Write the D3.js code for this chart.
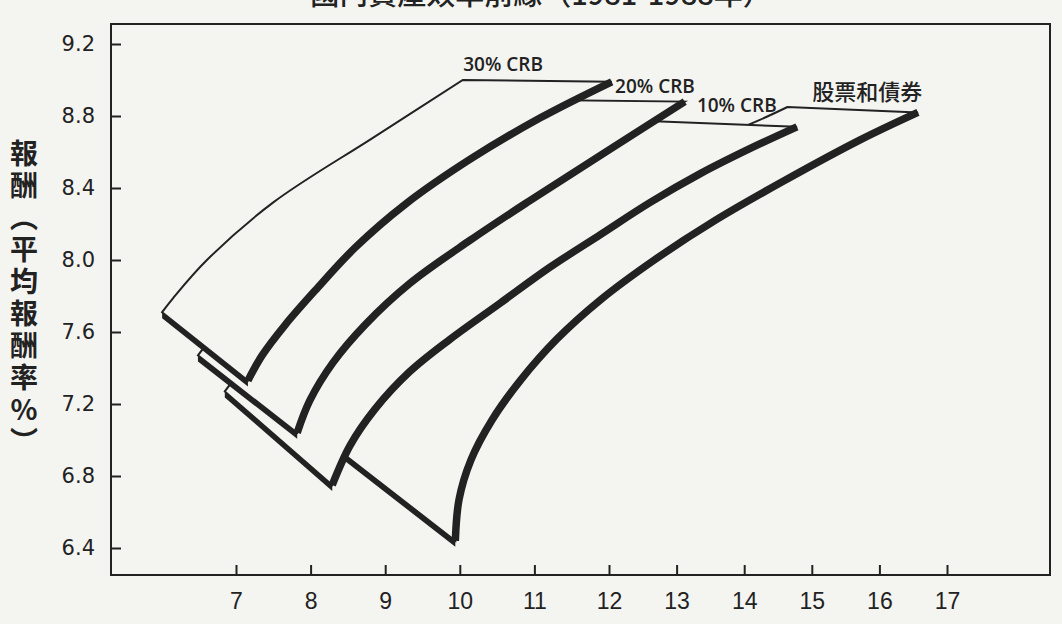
<!DOCTYPE html>
<html>
<head>
<meta charset="utf-8">
<script src="https://cdn.jsdelivr.net/npm/d3@7"></script>
<style>
  html, body { margin: 0; padding: 0; background: #f4f4f1; }
  svg { display: block; }
</style>
</head>
<body>
<svg id="chart" width="1062" height="624"></svg>
<script>
// ---------------- data (risk %, return %) ----------------
const titleText = "國內資產效率前緣（1981-1988年）";
const yTitle = "報酬（平均報酬率%）";
const xTicks = [7, 8, 9, 10, 11, 12, 13, 14, 15, 16, 17];
const yTicks = [6.4, 6.8, 7.2, 7.6, 8.0, 8.4, 8.8, 9.2];
const series = ["股票和債券", "10% CRB", "20% CRB", "30% CRB"];

// frontier curves (front, thick edge), from low-risk end to high-risk end
const frontStocks = [[9.94,6.44],[9.99,6.67],[10.15,6.89],[10.43,7.11],[10.81,7.33],[11.30,7.56],[11.89,7.78],[12.67,8.00],[13.57,8.22],[14.59,8.44],[15.73,8.67],[16.57,8.82]];
const front10 = [[8.29,6.75],[8.53,6.97],[8.86,7.17],[9.33,7.38],[9.87,7.56],[10.54,7.76],[11.21,7.96],[11.88,8.14],[12.61,8.32],[13.35,8.48],[14.09,8.62],[14.78,8.74]];
const front20 = [[7.82,7.04],[7.99,7.22],[8.30,7.43],[8.73,7.64],[9.33,7.87],[10.14,8.11],[10.94,8.33],[11.88,8.58],[13.12,8.88]];
const front30 = [[7.16,7.33],[7.35,7.47],[7.66,7.64],[8.06,7.83],[8.60,8.07],[9.27,8.31],[10.14,8.56],[11.08,8.79],[12.04,8.99]];

// back edges of each ribbon (depth side), from bottom corner to top corner
const backStocks = [[7.86,7.11],[8.06,7.22],[8.53,7.44],[9.47,7.78],[10.67,8.11],[12.01,8.42],[13.35,8.64],[14.24,8.78],[14.64,8.85]];
const back10 = [[6.85,7.27],[7.00,7.35],[7.46,7.56],[8.34,7.87],[9.68,8.24],[11.08,8.56],[12.01,8.78]];
const back20 = [[6.49,7.47],[6.64,7.55],[7.09,7.76],[7.98,8.07],[9.32,8.44],[10.40,8.72],[10.81,8.89]];
const back30 = [[6.01,7.71],[6.16,7.79],[6.61,8.00],[7.50,8.32],[8.84,8.68],[10.04,9.00]];

// label anchor values (risk, return) for each ribbon label
const labelPos = [[15.82,8.89],[13.30,8.82],[12.09,8.93],[10.58,9.05]];

// ---------------- layout ----------------
const svg = d3.select("#chart");
const frame = {left: 111, top: 24, right: 1050, bottom: 575};
const ink = "#222";
const paper = "#f4f4f1";

const x = d3.scaleLinear().domain([7, 12, 17]).range([236, 609, 947]);
const y = d3.scaleLinear().domain([6.4, 9.2]).range([548, 44]);

// title (mostly cut off by the page top, as in the scan)
svg.append("text")
  .attr("x", 541).attr("y", 5)
  .attr("text-anchor", "middle")
  .attr("font-family", "'Noto Sans CJK TC', 'Noto Sans CJK SC', sans-serif")
  .attr("font-size", 29).attr("font-weight", 500)
  .attr("fill", ink)
  .text(titleText);

// frame
svg.append("rect")
  .attr("x", frame.left).attr("y", frame.top)
  .attr("width", frame.right - frame.left).attr("height", frame.bottom - frame.top)
  .attr("fill", "none").attr("stroke", ink).attr("stroke-width", 2);

// y axis
const yAxis = d3.axisLeft(y).tickValues(yTicks).tickFormat(d3.format(".1f")).tickSizeInner(-10).tickSizeOuter(0).tickPadding(16);
const gy = svg.append("g").attr("transform", `translate(${frame.left},0)`).call(yAxis);
gy.select(".domain").remove();
gy.selectAll(".tick line").attr("stroke", ink).attr("stroke-width", 2);
gy.selectAll(".tick text")
  .attr("fill", ink)
  .attr("font-family", "'DejaVu Sans', sans-serif")
  .attr("font-size", 21);

// x axis
const xAxis = d3.axisBottom(x).tickValues(xTicks).tickFormat(d3.format("d")).tickSizeInner(-10).tickSizeOuter(0).tickPadding(18);
const gx = svg.append("g").attr("transform", `translate(0,${frame.bottom})`).call(xAxis);
gx.select(".domain").remove();
gx.selectAll(".tick line").attr("stroke", ink).attr("stroke-width", 2);
gx.selectAll(".tick text")
  .attr("fill", ink)
  .attr("font-family", "'Liberation Sans Narrow', 'Liberation Sans', sans-serif")
  .attr("font-size", 23);

// y-axis title, vertical writing
svg.append("text")
  .attr("x", 24).attr("y", 139)
  .style("writing-mode", "vertical-rl")
  .style("text-orientation", "upright")
  .attr("letter-spacing", 4)
  .attr("font-family", "'Noto Sans CJK TC', 'Noto Sans CJK SC', sans-serif")
  .attr("font-size", 28).attr("font-weight", 700)
  .attr("fill", ink)
  .text(yTitle);

// ribbons
const curve = d3.line().x(d => x(d[0])).y(d => y(d[1])).curve(d3.curveCatmullRom.alpha(0.5));
const ribbons = [
  {name: series[0], front: frontStocks, back: backStocks, label: labelPos[0]},
  {name: series[1], front: front10, back: back10, label: labelPos[1]},
  {name: series[2], front: front20, back: back20, label: labelPos[2]},
  {name: series[3], front: front30, back: back30, label: labelPos[3]}
];

const gR = svg.append("g");
ribbons.forEach(r => {
  const g = gR.append("g");
  const c = r.back[0], v = r.front[0];
  const cx = x(c[0]), cy = y(c[1]), vx = x(v[0]), vy = y(v[1]);
  // sheet thickness under the bottom edge
  g.append("path")
    .attr("d", `M${cx},${cy}L${vx},${vy}L${vx},${vy + 6}L${cx},${cy + 6}Z`)
    .attr("fill", ink);
  // face
  const d = curve(r.back) + curve(r.front.slice().reverse()).replace(/^M/, "L") + "Z";
  g.append("path")
    .attr("d", d)
    .attr("fill", paper)
    .attr("stroke", ink).attr("stroke-width", 2).attr("stroke-linejoin", "miter");
  // thick frontier edge
  g.append("path")
    .attr("d", curve(r.front))
    .attr("fill", "none")
    .attr("stroke", ink).attr("stroke-width", 7.5).attr("stroke-linecap", "butt");
});

// labels
const labelFont = "'Open Sans', 'DejaVu Sans', sans-serif";
ribbons.forEach((r, i) => {
  const isCJK = i === 0;
  svg.append("text")
    .attr("x", x(r.label[0])).attr("y", y(r.label[1]))
    .attr("text-anchor", (i === 0 || i === 3) ? "middle" : "start")
    .attr("font-family", isCJK ? "'Noto Sans CJK TC', sans-serif" : labelFont)
    .attr("font-size", isCJK ? 22 : 19)
    .attr("font-weight", isCJK ? 500 : 600)
    .attr("fill", ink)
    .text(r.name);
});
</script>
</body>
</html>
